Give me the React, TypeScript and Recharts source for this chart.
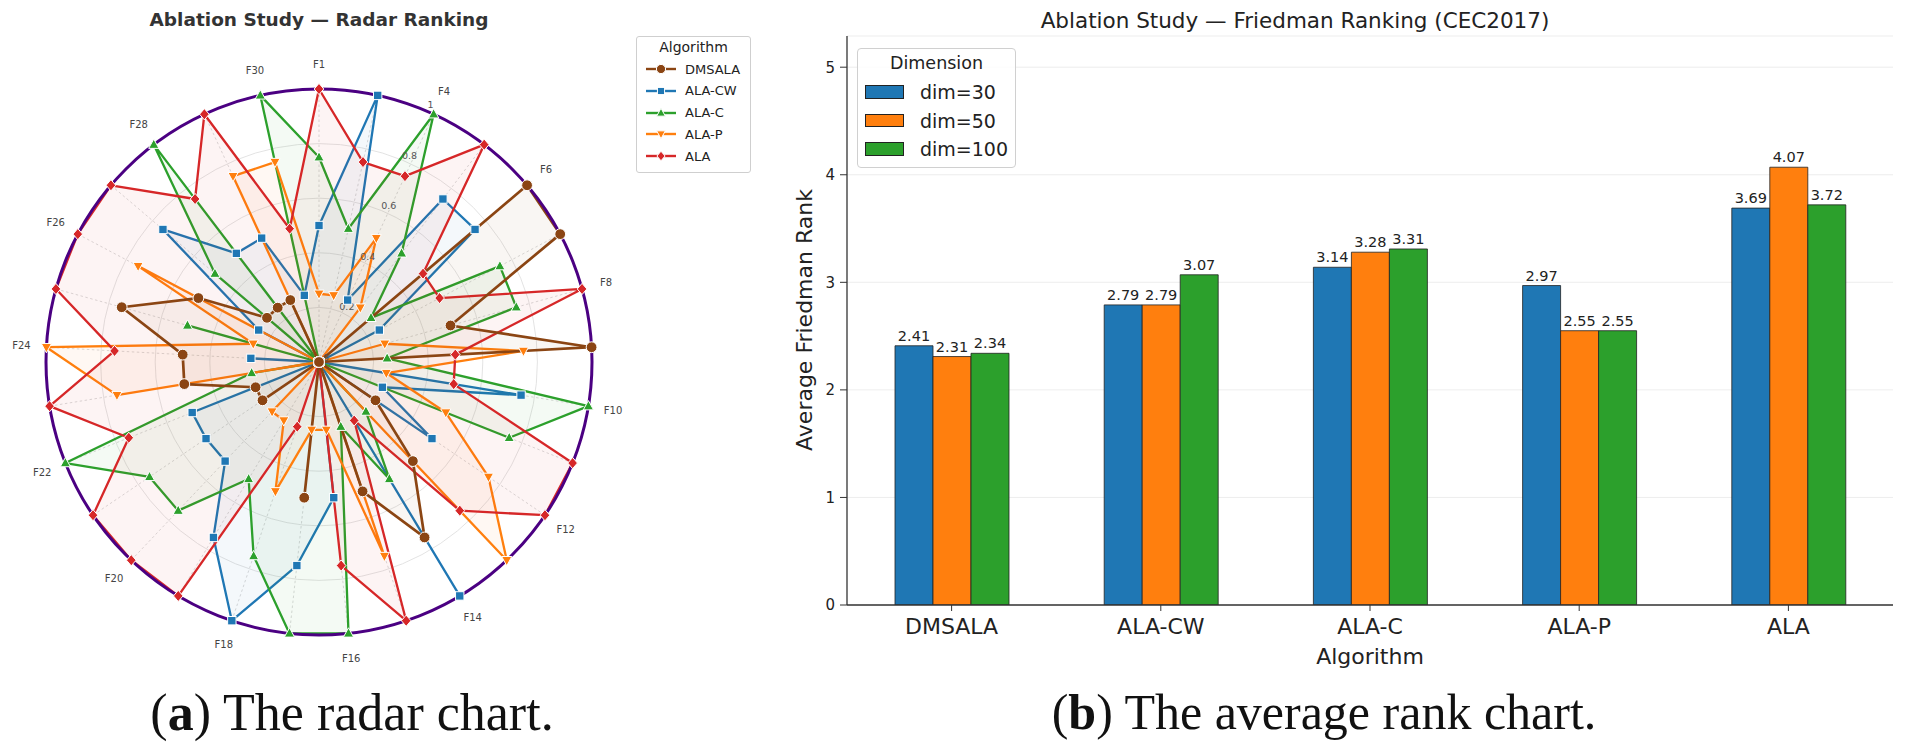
import React from "react"
import {
  RadarChart,
  Radar,
  PolarGrid,
  PolarAngleAxis,
  PolarRadiusAxis,
  BarChart,
  Bar,
  XAxis,
  YAxis,
  CartesianGrid,
  LabelList,
} from "recharts"

// CEC2017 functions (F2 excluded)
const functions = [
  "F1", "F3", "F4", "F5", "F6", "F7", "F8", "F9", "F10", "F11",
  "F12", "F13", "F14", "F15", "F16", "F17", "F18", "F19", "F20", "F21",
  "F22", "F23", "F24", "F25", "F26", "F27", "F28", "F29", "F30",
]

// normalised rank per function (0 = best, 1 = worst)
const dmsala = [0, 0, 0, 0, 1, 1, 0.5, 1, 0, 0, 0.25, 0.5, 0.75, 0.5, 0, 0.5, 0, 0, 0, 0.25, 0.25, 0.5, 0.5, 0.75, 0.5, 0.25, 0.25, 0.25, 0]
const alaCW = [0.5, 1, 0.25, 0.75, 0.75, 0.25, 0, 0, 0.75, 0.25, 0.5, 0, 1, 0, 0.5, 0.75, 1, 0.75, 0.5, 0.5, 0.5, 0, 0.25, 0, 0.25, 0.75, 0.5, 0.5, 0.25]
const alaC = [0.75, 0.5, 1, 0.5, 0.25, 0.75, 0.75, 0.25, 1, 0.75, 0, 0.25, 0.5, 0.25, 1, 1, 0.75, 0.5, 0.75, 0.75, 1, 0.25, 0, 0.5, 0, 0.5, 1, 0, 1]
const alaP = [0.25, 0.25, 0.5, 0.25, 0, 0, 0.25, 0.75, 0.25, 0.5, 0.75, 1, 0, 0.75, 0.25, 0.25, 0.5, 0.25, 0.25, 0, 0, 0.75, 1, 0.25, 0.75, 0, 0, 0.75, 0.75]
const ala = [1, 0.75, 0.75, 1, 0.5, 0.5, 1, 0.5, 0.5, 1, 1, 0.75, 0.25, 1, 0.75, 0, 0.25, 1, 1, 1, 0.75, 1, 0.75, 1, 1, 1, 0.75, 1, 0.5]
const radiusTicks = [0, 0.2, 0.4, 0.6, 0.8, 1]

// Friedman ranking
const algorithms = ["DMSALA", "ALA-CW", "ALA-C", "ALA-P", "ALA"]
const dim30 = [2.41, 2.79, 3.14, 2.97, 3.69]
const dim50 = [2.31, 2.79, 3.28, 2.55, 4.07]
const dim100 = [2.34, 3.07, 3.31, 2.55, 3.72]
const rankTicks = [0, 1, 2, 3, 4, 5]

const series = [
  { key: "DMSALA", values: dmsala, color: "#8B4513", shape: "circle", width: 2.7 },
  { key: "ALA-CW", values: alaCW, color: "#1f77b4", shape: "square", width: 2.3 },
  { key: "ALA-C", values: alaC, color: "#2ca02c", shape: "up", width: 2.3 },
  { key: "ALA-P", values: alaP, color: "#ff7f0e", shape: "down", width: 2.3 },
  { key: "ALA", values: ala, color: "#d62728", shape: "diamond", width: 2.3 },
]
// the proposed method sits on top of the others
const drawOrder = ["ALA-CW", "ALA-C", "ALA-P", "ALA", "DMSALA"]

const dims = [
  { key: "d30", label: "dim=30", color: "#1f77b4" },
  { key: "d50", label: "dim=50", color: "#ff7f0e" },
  { key: "d100", label: "dim=100", color: "#2ca02c" },
]

const radarData = functions.map((fn, i) => {
  const row: any = { fn }
  series.forEach((s) => (row[s.key] = s.values[i]))
  return row
})

const barData = algorithms.map((alg, i) => ({ alg, d30: dim30[i], d50: dim50[i], d100: dim100[i] }))

const FONT = "DejaVu Sans"

function marker(shape: string, color: string, cx: number, cy: number, k?: any, scale = 1) {
  const st = { fill: color, stroke: "#fff", strokeWidth: 1 }
  const s = scale
  if (shape === "circle") return <circle key={k} cx={cx} cy={cy} r={5.4 * s} {...st} />
  if (shape === "square")
    return <rect key={k} x={cx - 4.2 * s} y={cy - 4.2 * s} width={8.4 * s} height={8.4 * s} {...st} />
  if (shape === "up")
    return (
      <polygon key={k} points={`${cx},${cy - 5.6 * s} ${cx + 5.1 * s},${cy + 3.7 * s} ${cx - 5.1 * s},${cy + 3.7 * s}`} {...st} />
    )
  if (shape === "down")
    return (
      <polygon key={k} points={`${cx},${cy + 5.6 * s} ${cx + 5.1 * s},${cy - 3.7 * s} ${cx - 5.1 * s},${cy - 3.7 * s}`} {...st} />
    )
  return (
    <polygon key={k} points={`${cx},${cy - 5.6 * s} ${cx + 4.8 * s},${cy} ${cx},${cy + 5.6 * s} ${cx - 4.8 * s},${cy}`} {...st} />
  )
}

const angleTick = (p: any) => {
  if (p.index % 2 !== 0) return <g />
  return (
    <text x={p.x} y={p.y} textAnchor="middle" dominantBaseline="central" fontSize={10} fill="#444" fontFamily={FONT}>
      {p.payload.value}
    </text>
  )
}

const radiusTick = (p: any) => {
  const v = p.payload.value
  const label = v === 0 ? "0" : v === 1 ? "1" : v.toFixed(1)
  return (
    <text x={p.x + 7} y={p.y - 5} textAnchor="middle" dominantBaseline="central" fontSize={9.5} fill="#555" fontFamily={FONT}>
      {label}
    </text>
  )
}

function RadarLegend() {
  return (
    <div
      style={{
        position: "absolute", left: 636, top: 36, width: 115, height: 137, boxSizing: "border-box",
        border: "1px solid #cfcfcf", borderRadius: 3, background: "rgba(255,255,255,0.85)", fontFamily: FONT,
      }}
    >
      <div style={{ position: "absolute", left: 0, right: 0, top: 2, textAlign: "center", fontSize: 14, color: "#222" }}>
        Algorithm
      </div>
      {series.map((s, i) => (
        <div key={s.key} style={{ position: "absolute", left: 8, top: 24 + i * 21.8, height: 16, display: "flex", alignItems: "center" }}>
          <svg width={32} height={16}>
            <line x1={1} y1={8} x2={31} y2={8} stroke={s.color} strokeWidth={2.4} />
            {marker(s.shape, s.color, 16, 8, undefined, 0.85)}
          </svg>
          <span style={{ marginLeft: 8, fontSize: 13, color: "#222" }}>{s.key}</span>
        </div>
      ))}
    </div>
  )
}

function BarLegend() {
  return (
    <div
      style={{
        position: "absolute", left: 857, top: 48, width: 159, height: 120, boxSizing: "border-box",
        border: "1px solid #d0d0d0", borderRadius: 4, background: "rgba(255,255,255,0.85)", fontFamily: FONT,
      }}
    >
      <div style={{ position: "absolute", left: 0, right: 0, top: 4, textAlign: "center", fontSize: 17.5, color: "#222" }}>
        Dimension
      </div>
      {dims.map((d, i) => (
        <div key={d.key} style={{ position: "absolute", left: 7, top: 31 + i * 28.5, height: 24, display: "flex", alignItems: "center" }}>
          <div style={{ width: 39, height: 13.5, background: d.color, border: "0.8px solid #222", boxSizing: "border-box" }} />
          <span style={{ marginLeft: 16, fontSize: 19, color: "#222" }}>{d.label}</span>
        </div>
      ))}
    </div>
  )
}

const centered = (x: number, y: number, extra: any = {}) => ({
  position: "absolute" as const, left: x, top: y, transform: "translate(-50%, -50%)", whiteSpace: "nowrap" as const, ...extra,
})

export default function App() {
  return (
    <div style={{ position: "relative", width: 1905, height: 742, background: "#fff", overflow: "hidden", fontFamily: FONT }}>
      <style>{"body{margin:0}"}</style>

      <div style={centered(319, 19, { fontSize: 18.5, fontWeight: "bold", color: "#333" })}>
        Ablation Study — Radar Ranking
      </div>

      <div style={{ position: "absolute", left: 0, top: 0 }}>
        <RadarChart width={640} height={742} cx={319} cy={362} outerRadius={273} data={radarData}>
          <PolarGrid gridType="circle" radialLines={false} stroke="#dcdcdc" strokeWidth={0.8} />
          <PolarGrid gridType="circle" polarRadius={[]} stroke="#d0d0d0" strokeWidth={0.8} strokeDasharray="2.5 2.5" />
          <PolarAngleAxis
            dataKey="fn"
            axisLineType="circle"
            axisLine={{ stroke: "#4B0082", strokeWidth: 3 }}
            tickLine={false}
            tickSize={25}
            tick={angleTick}
          />
          <PolarRadiusAxis
            angle={67.5}
            domain={[0, 1]}
            ticks={radiusTicks}
            axisLine={false}
            tickLine={false}
            tick={radiusTick}
          />
          {drawOrder.map((k) => {
            const s = series.find((x) => x.key === k)!
            return (
              <Radar
                key={s.key}
                name={s.key}
                dataKey={s.key}
                stroke={s.color}
                strokeWidth={s.width}
                strokeLinejoin="round"
                fill={s.color}
                fillOpacity={0.05}
                dot={(p: any) => marker(s.shape, s.color, p.cx, p.cy, `${s.key}-${p.index}`)}
                isAnimationActive={false}
              />
            )
          })}
        </RadarChart>
      </div>

      <RadarLegend />

      <div style={centered(1295, 20, { fontSize: 21.5, color: "#222" })}>Ablation Study — Friedman Ranking (CEC2017)</div>

      <div style={{ position: "absolute", left: 760, top: 0 }}>
        <BarChart
          width={1145}
          height={742}
          data={barData}
          margin={{ top: 36, right: 12, left: 27, bottom: 107 }}
          barGap={0}
          barSize={38}
        >
          <CartesianGrid vertical={false} stroke="#e8e8e8" strokeWidth={0.8} />
          <XAxis
            dataKey="alg"
            interval={0}
            height={30}
            tickSize={6}
            tickMargin={7}
            tick={{ fontSize: 22, fill: "#222", fontFamily: FONT }}
            tickLine={{ stroke: "#333" }}
            axisLine={{ stroke: "#333", strokeWidth: 1.3 }}
          />
          <YAxis
            domain={[0, 5.29]}
            ticks={rankTicks}
            width={60}
            tickSize={7}
            tickMargin={5}
            tick={{ fontSize: 15, fill: "#222", fontFamily: FONT }}
            tickLine={{ stroke: "#333" }}
            axisLine={{ stroke: "#333", strokeWidth: 1.3 }}
            allowDataOverflow
          />
          {dims.map((d) => (
            <Bar key={d.key} dataKey={d.key} fill={d.color} stroke="#222" strokeWidth={0.8} isAnimationActive={false}>
              <LabelList
                dataKey={d.key}
                position="top"
                offset={5}
                formatter={(v: any) => Number(v).toFixed(2)}
                style={{ fontSize: 14.5, fill: "#222", fontFamily: FONT }}
              />
            </Bar>
          ))}
        </BarChart>
      </div>

      <BarLegend />

      <div style={centered(804, 320, { fontSize: 22, color: "#222", transform: "translate(-50%, -50%) rotate(-90deg)" })}>
        Average Friedman Rank
      </div>
      <div style={centered(1370, 656, { fontSize: 22, color: "#222" })}>Algorithm</div>

      <div style={centered(352, 712, { fontSize: 52, fontFamily: "Liberation Serif", color: "#111" })}>
        (<b>a</b>) The radar chart.
      </div>
      <div style={centered(1324, 712, { fontSize: 50, fontFamily: "Liberation Serif", color: "#111" })}>
        (<b>b</b>) The average rank chart.
      </div>
    </div>
  )
}
